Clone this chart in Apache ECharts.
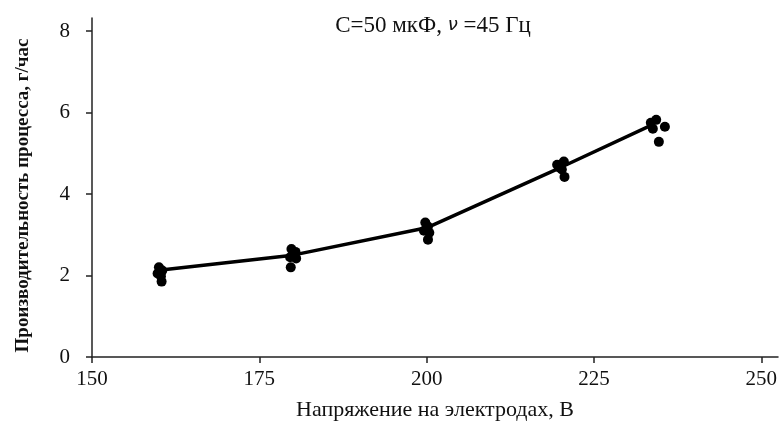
<!DOCTYPE html>
<html>
<head>
<meta charset="utf-8">
<script src="https://cdn.jsdelivr.net/npm/echarts@6/dist/echarts.min.js"></script>
<style>
  html, body { margin: 0; padding: 0; background: #fff; }
  #chart { width: 783px; height: 444px; }
</style>
</head>
<body>
<div id="chart"></div>
<script>
// Mean process productivity at each electrode voltage
const voltage = [160, 180, 200, 220, 234];
const productivity = [2.13, 2.5, 3.17, 4.65, 5.72];

// Individual measurements: [voltage, productivity]
const measurements = [
  [160, 2.2], [160.5, 2.12], [159.8, 2.05], [160.3, 1.98], [160.4, 1.85],
  [179.8, 2.65], [180.4, 2.58], [179.6, 2.45], [180.5, 2.42], [179.7, 2.2],
  [199.8, 3.3], [200.2, 3.2], [199.6, 3.1], [200.4, 3.05], [200.2, 2.88],
  [219.5, 4.72], [220.5, 4.8], [220.2, 4.6], [219.8, 4.65], [220.6, 4.42],
  [233.5, 5.75], [234.3, 5.82], [233.8, 5.6], [235.6, 5.65], [234.7, 5.28]
];

const xTicks = [150, 175, 200, 225, 250];
const yTicks = [0, 2, 4, 6, 8];

const font = 'Liberation Serif';
const chart = echarts.init(document.getElementById('chart'));

chart.setOption({
  animation: false,
  backgroundColor: '#fff',
  title: {
    text: 'C=50 мкФ, {nu|ν} =45 Гц',
    left: 428,
    textAlign: 'center',
    top: 9,
    textStyle: {
      fontFamily: font, fontSize: 23, fontWeight: 'normal', color: '#111',
      rich: { nu: { fontFamily: 'DejaVu Sans', fontStyle: 'italic', fontSize: 18, color: '#111' } }
    }
  },
  grid: { left: 92, right: 5, top: 18, bottom: 87 },
  xAxis: {
    type: 'value',
    min: 150, max: 252.5,
    interval: 25,
    name: 'Напряжение на электродах, В',
    nameLocation: 'middle',
    nameGap: 42,
    nameTextStyle: { fontFamily: font, fontSize: 22, color: '#111' },
    axisLine: { show: true, onZero: false, lineStyle: { color: '#222', width: 1.5 } },
    axisTick: { show: true, length: 6, customValues: xTicks, lineStyle: { color: '#222', width: 1.5 } },
    axisLabel: { customValues: xTicks, margin: 12, fontFamily: font, fontSize: 21, color: '#111' },
    splitLine: { show: false }
  },
  yAxis: {
    type: 'value',
    min: 0, max: 8.32,
    interval: 2,
    name: 'Производительность процесса, г/час',
    nameLocation: 'middle',
    nameGap: 59,
    nameRotate: 90,
    nameTextStyle: { fontFamily: font, fontSize: 19, fontWeight: 'bold', color: '#111', padding: [0, 16, 0, 0] },
    axisLine: { show: true, onZero: false, lineStyle: { color: '#222', width: 1.5 } },
    axisTick: { show: true, length: 6, customValues: yTicks, lineStyle: { color: '#222', width: 1.5 } },
    axisLabel: { customValues: yTicks, margin: 22, fontFamily: font, fontSize: 21, color: '#111' },
    splitLine: { show: false }
  },
  series: [
    {
      type: 'line',
      data: voltage.map((v, i) => [v, productivity[i]]),
      symbol: 'none',
      lineStyle: { color: '#000', width: 3.5 },
      z: 3
    },
    {
      type: 'scatter',
      data: measurements,
      symbol: 'circle',
      symbolSize: 10,
      itemStyle: { color: '#000', opacity: 1 },
      z: 4
    }
  ]
});
</script>
</body>
</html>
